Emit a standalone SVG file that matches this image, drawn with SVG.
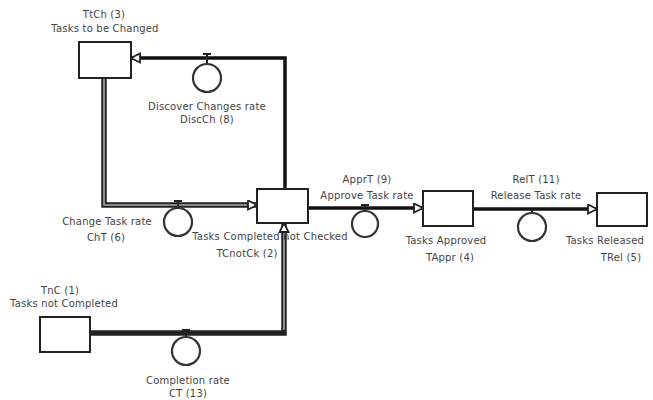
<svg xmlns="http://www.w3.org/2000/svg" width="653" height="400" viewBox="0 0 653 400">
<defs>
<style>
.box{fill:#fff;stroke:#222;stroke-width:2}
.flow{fill:none;stroke:#111;stroke-width:3.5}
.pipe{fill:none;stroke:#222;stroke-width:5.5}
.pipein{fill:none;stroke:#aaa;stroke-width:1.6}
.valve{fill:#fff;stroke:#333;stroke-width:2.2}
.stub{stroke:#222;stroke-width:2;fill:none}
text{font-family:"DejaVu Sans",Verdana,sans-serif;font-size:10px;fill:#444;text-anchor:middle;letter-spacing:0.2px}
</style>
<marker id="ah" markerUnits="userSpaceOnUse" markerWidth="13" markerHeight="13" refX="10" refY="5.5" orient="auto">
<path d="M1,1 L10,5.5 L1,10 Z" fill="#fff" stroke="#222" stroke-width="1.8"/>
</marker>
</defs>
<rect width="653" height="400" fill="#fff"/>

<g id="connectors">
<path class="flow" d="M285,189 V58 H131" marker-end="url(#ah)"/>
<path class="pipe" d="M104,78 V205 H257" marker-end="url(#ah)"/>
<path class="pipein" d="M104,78 V205 H247"/>
<path class="pipe" d="M90,333 H284 V223" marker-end="url(#ah)"/>
<path class="pipein" d="M284,330 V233"/>
<path class="flow" d="M308,208 H423" marker-end="url(#ah)"/>
<path class="flow" d="M473,209 H597" marker-end="url(#ah)"/>
</g>

<g id="TtCh">
<rect class="box" x="79" y="42" width="52" height="36"/>
<text x="104" y="18">TtCh (3)</text>
<text x="105" y="32">Tasks to be Changed</text>
</g>

<g id="DiscCh">
<path class="stub" d="M203,54 H211 M207,54 V64"/>
<circle class="valve" cx="207" cy="78" r="14"/>
<text x="207" y="110">Discover Changes rate</text>
<text x="207" y="123">DiscCh (8)</text>
</g>

<g id="ChT">
<path class="stub" d="M174,201 H182 M178,201 V208"/>
<circle class="valve" cx="178" cy="222" r="14"/>
<text x="107" y="225">Change Task rate</text>
<text x="106" y="241">ChT (6)</text>
</g>

<g id="TCnotCk">
<rect class="box" x="257" y="189" width="51" height="34"/>
<text x="270" y="240">Tasks Completed not Checked</text>
<text x="247" y="257">TCnotCk (2)</text>
</g>

<g id="ApprT">
<path class="stub" d="M361,205 H369 M365,205 V211"/>
<circle class="valve" cx="365" cy="224" r="13"/>
<text x="367" y="183">ApprT (9)</text>
<text x="367" y="199">Approve Task rate</text>
</g>

<g id="TAppr">
<rect class="box" x="423" y="191" width="50" height="35"/>
<text x="446" y="244">Tasks Approved</text>
<text x="450" y="261">TAppr (4)</text>
</g>

<g id="RelT">
<path class="stub" d="M532,209 V213"/>
<circle class="valve" cx="532" cy="227" r="14"/>
<text x="536" y="183">RelT (11)</text>
<text x="536" y="199">Release Task rate</text>
</g>

<g id="TRel">
<rect class="box" x="597" y="193" width="50" height="33"/>
<text x="605" y="244">Tasks Released</text>
<text x="621" y="261">TRel (5)</text>
</g>

<g id="TnC">
<rect class="box" x="40" y="317" width="50" height="35"/>
<text x="60" y="294">TnC (1)</text>
<text x="64" y="307">Tasks not Completed</text>
</g>

<g id="CT">
<path class="stub" d="M182,330 H190 M186,330 V337"/>
<circle class="valve" cx="186" cy="351" r="14"/>
<text x="188" y="384">Completion rate</text>
<text x="188" y="397">CT (13)</text>
</g>
</svg>
